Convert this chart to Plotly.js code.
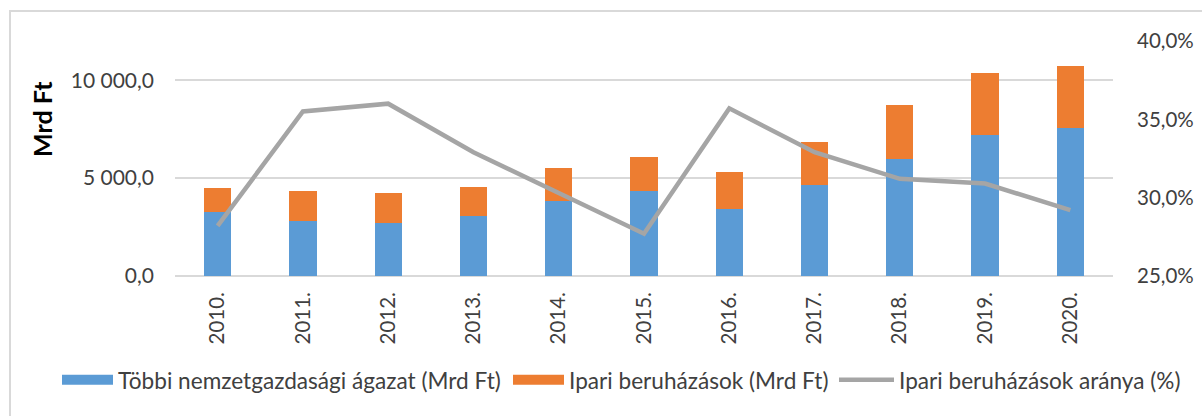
<!DOCTYPE html>
<html><head><meta charset="utf-8">
<script src="https://cdn.plot.ly/plotly-3.0.1.min.js"></script>
<style>html,body{margin:0;padding:0;background:#fff}#c{width:1202px;height:416px}</style>
</head><body><div id="c"></div>
<script>
const years = ["2010.","2011.","2012.","2013.","2014.","2015.","2016.","2017.","2018.","2019.","2020."];
const tobbi = [3250, 2790, 2720, 3060, 3830, 4350, 3430, 4630, 5990, 7180, 7570];
const ipari = [1225, 1560, 1515, 1480, 1700, 1705, 1890, 2210, 2755, 3195, 3130];
const arany = [28.2, 35.5, 36.0, 32.9, 30.3, 27.7, 35.7, 32.9, 31.2, 30.9, 29.2];
const names = ["Többi nemzetgazdasági ágazat (Mrd Ft)", "Ipari beruházások (Mrd Ft)", "Ipari beruházások aránya (%)"];
const colors = ["#5b9bd5", "#ed7d31", "#a5a5a5"];

const W=1202,H=416,L=175,R=1113,T=41,B=276;
const pw=R-L, ph=B-T;
const px = x => (x-L)/pw, py = y => (B-y)/ph;

const ff = "Lato, 'Open Sans', sans-serif";
const font = {family:ff, color:"#404040", size:20};
const lfont = {family:ff, size:22.6, color:"#404040"};
const data = [
 {type:"bar", x:years, y:tobbi, name:names[0], marker:{color:colors[0]}, width:0.32, showlegend:false},
 {type:"bar", x:years, y:ipari, name:names[1], marker:{color:colors[1]}, width:0.32, showlegend:false},
 {type:"scatter", mode:"lines", x:years, y:arany, name:names[2], yaxis:"y2", line:{color:colors[2], width:4.5}, legend:"legend3"},
 {type:"scatter", mode:"lines", x:[null], y:[null], name:names[0], line:{color:colors[0], width:13}, legend:"legend"},
 {type:"scatter", mode:"lines", x:[null], y:[null], name:names[1], line:{color:colors[1], width:13}, legend:"legend2"}
];
const leg = (x0, iw) => ({orientation:"h", x:px(x0), xanchor:"left", y:py(380), yanchor:"middle", font:lfont, itemwidth:iw, bgcolor:"rgba(0,0,0,0)"});
const layout = {
 width:W, height:H, barmode:"stack", separators:", ",
 margin:{l:L, r:W-R, t:T, b:H-B, pad:0},
 paper_bgcolor:"#fff", plot_bgcolor:"#fff", font:font,
 showlegend:true,
 legend:leg(57, 51), legend2:leg(508, 51), legend3:leg(834, 55),
 xaxis:{type:"category", tickangle:-90, showgrid:false, showline:false, ticks:"", ticklabelstandoff:11, tickfont:{family:ff, size:20.5,color:"#404040"}},
 yaxis:{range:[0,12000], tickvals:[0,5000,10000], tickformat:",.1f", showgrid:true, gridcolor:"#d9d9d9", gridwidth:1.5, zeroline:true, zerolinecolor:"#d9d9d9", zerolinewidth:1.5, showline:false, ticks:"", ticklen:0, ticklabelstandoff:20, tickfont:{family:ff, size:21,color:"#404040"}},
 yaxis2:{overlaying:"y", side:"right", range:[25,40], dtick:5, tick0:25, tickformat:".1f", ticksuffix:"%", showgrid:false, zeroline:false, showline:false, ticks:"", ticklabelstandoff:23, tickfont:{family:ff, size:20.5,color:"#404040"}},
 annotations:[{text:"Mrd Ft", xref:"paper", yref:"paper", x:px(42), y:py(119), xanchor:"center", yanchor:"middle", textangle:-90, showarrow:false, font:{family:ff, size:25, color:"#000", weight:"bold"}}],
 shapes:[{type:"rect", xref:"paper", yref:"paper", x0:px(10), x1:px(1210), y0:py(425), y1:py(11), line:{color:"#d9d9d9", width:2}, fillcolor:"rgba(0,0,0,0)", layer:"below"}]
};
Plotly.newPlot("c", data, layout, {displayModeBar:false, staticPlot:true});
</script></body></html>
